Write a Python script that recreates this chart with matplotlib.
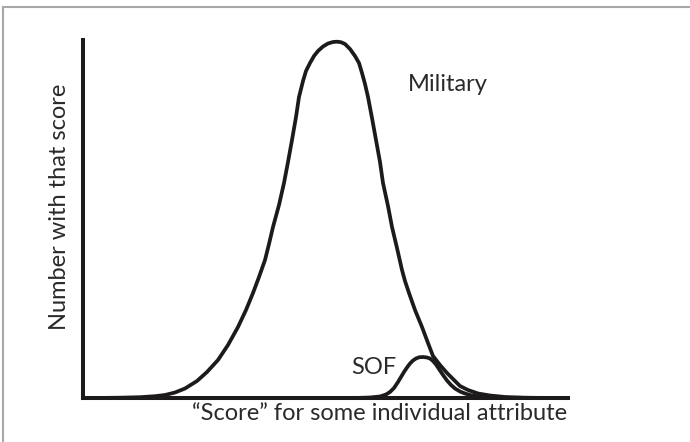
import matplotlib.pyplot as plt
from matplotlib.lines import Line2D

plt.rcParams['font.family'] = ['Lato', 'DejaVu Sans']

# curves (score, count), dense enough to look smooth
military_x = [95, 120, 140, 155, 165, 175, 185, 197, 207, 218, 228, 238, 246, 253, 259,
              265, 269, 273, 279, 284, 288, 292, 296, 299, 303, 306, 310, 314, 318, 323,
              328, 333, 337, 341, 345, 350, 355, 359, 362, 365, 368, 372, 376, 380, 383,
              388, 392, 397, 402, 405, 409, 415, 422, 428, 433, 440, 447, 453, 460, 468,
              478, 490, 505, 525, 547]
military_y = [0, 0.3, 0.8, 1.8, 3, 5.5, 9.5, 17, 26, 38, 53, 71, 88, 105, 121,
              138, 154, 171, 193, 215, 236, 258, 281, 301, 317, 327, 335, 342, 347, 351.5,
              354.5, 356, 356.3, 355.8, 354, 349, 342, 335, 325, 314, 301, 280, 258, 236, 215,
              192, 171, 150, 128, 117, 105, 88, 71, 55, 42, 33, 25, 19, 12, 8,
              4.5, 2.5, 1, 0.3, 0]

sof_x = [355, 370, 380, 386, 390, 394, 398, 401, 404, 407, 410, 413, 416, 419, 423,
         427, 430, 433, 436, 439, 443, 447, 451, 455, 460, 465, 470, 478, 490, 500]
sof_y = [0, 0.5, 1.5, 3.5, 6, 10, 16, 21, 26, 30.5, 34.5, 37.5, 39.5, 40.7, 41,
         40.5, 39.5, 37, 33.5, 29, 23, 17.5, 13, 9.5, 6.5, 4.5, 3, 1.5, 0.3, 0]

W, H = 690, 442
fig = plt.figure(figsize=(W / 100, H / 100), dpi=100)
ax = fig.add_axes([83 / W, 44 / H, 485 / W, 358 / H])

ax.plot(military_x, military_y, color='#1c1a1a', lw=2.7, clip_on=False,
        solid_capstyle='round', solid_joinstyle='round')
ax.plot(sof_x, sof_y, color='#1c1a1a', lw=2.7, clip_on=False,
        solid_capstyle='round', solid_joinstyle='round')

ax.set_xlim(83, 568)
ax.set_ylim(0, 358)
ax.set_xticks([])
ax.set_yticks([])
for s in ['top', 'right']:
    ax.spines[s].set_visible(False)
for s in ['left', 'bottom']:
    ax.spines[s].set_linewidth(2.9)
    ax.spines[s].set_color('#1c1a1a')
    ax.spines[s].set_capstyle('projecting')

txt = dict(fontsize=17, color='#2a2a2a')
ax.text(408, 307, 'Military', va='baseline', **txt)
ax.text(351, 24, 'SOF', va='baseline', **txt)

fig.text(380 / W, 1 - 414 / H, '\u201cScore\u201d for some individual attribute',
         ha='center', va='center', **txt)
fig.text(60 / W, 1 - 207 / H, 'Number with that score',
         ha='center', va='center', rotation=90, **txt)

# thin gray frame on top and left
fig.add_artist(Line2D([3 / W, 1], [1 - 7 / H, 1 - 7 / H], color='#a8a8a8', lw=1.5))
fig.add_artist(Line2D([3 / W, 3 / W], [0, 1 - 7 / H], color='#a8a8a8', lw=1.5))

fig.savefig('out.png', dpi=100)
